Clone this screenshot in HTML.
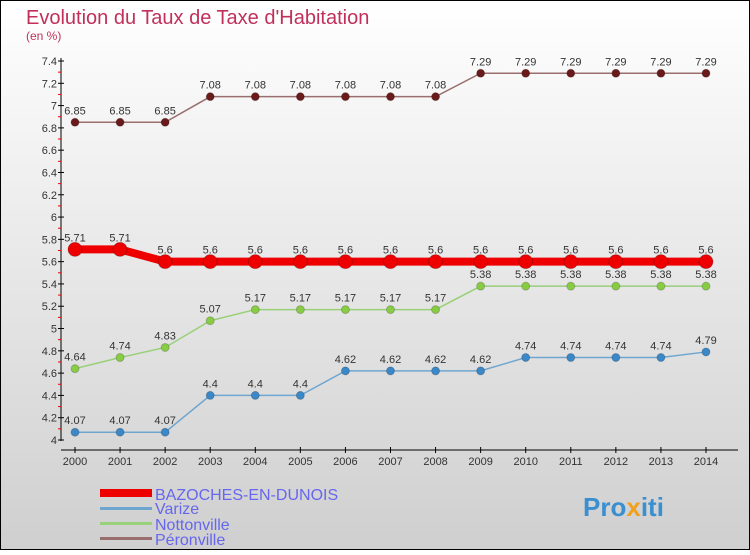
<!DOCTYPE html>
<html><head><meta charset="utf-8"><style>
body{margin:0;}
svg text{font-family:"Liberation Sans",sans-serif;}
</style></head><body>
<svg width="750" height="550" xmlns="http://www.w3.org/2000/svg">
<defs><linearGradient id="bg" x1="0" y1="0" x2="0" y2="1"><stop offset="0" stop-color="#ffffff"/><stop offset="1" stop-color="#cfcfcf"/></linearGradient></defs>
<rect x="0.5" y="0.5" width="749" height="549" fill="url(#bg)" stroke="#000"/>
<text x="26" y="24" font-size="20" fill="#c0305a">Evolution du Taux de Taxe d'Habitation</text>
<text x="26" y="40" font-size="12" fill="#c0305a">(en %)</text>
<g id="axes"></g>
<g id="series"></g>
<g>
<rect x="100" y="489" width="52" height="8" fill="#e00"/>
<text x="155" y="500" font-size="16" fill="#6666ee">BAZOCHES-EN-DUNOIS</text>
<rect x="100" y="507" width="52" height="3" fill="#6fa6d0"/>
<text x="155" y="514" font-size="16" fill="#6666ee">Varize</text>
<rect x="100" y="522" width="52" height="3" fill="#99d07a"/>
<text x="155" y="530" font-size="16" fill="#6666ee">Nottonville</text>
<rect x="100" y="537" width="52" height="3" fill="#9a6e6e"/>
<text x="155" y="545" font-size="16" fill="#6666ee">Péronville</text>
</g>
<text x="583" y="516" font-size="26" font-weight="bold" fill="#3a8fd0">Pro<tspan fill="#f0a020">x</tspan>iti</text>
</svg>
<script>
const years=[2000,2001,2002,2003,2004,2005,2006,2007,2008,2009,2010,2011,2012,2013,2014];
const bazoches=[5.71,5.71,5.6,5.6,5.6,5.6,5.6,5.6,5.6,5.6,5.6,5.6,5.6,5.6,5.6];
const varize=[4.07,4.07,4.07,4.4,4.4,4.4,4.62,4.62,4.62,4.62,4.74,4.74,4.74,4.74,4.79];
const nottonville=[4.64,4.74,4.83,5.07,5.17,5.17,5.17,5.17,5.17,5.38,5.38,5.38,5.38,5.38,5.38];
const peronville=[6.85,6.85,6.85,7.08,7.08,7.08,7.08,7.08,7.08,7.29,7.29,7.29,7.29,7.29,7.29];
const yTicks=[4,4.2,4.4,4.6,4.8,5,5.2,5.4,5.6,5.8,6,6.2,6.4,6.6,6.8,7,7.2,7.4];
const NS="http://www.w3.org/2000/svg";
const X=i=>75+i*(706-75)/(years.length-1);
const Y=v=>440-(v-4)*(379/3.4);
function mk(t,a,p){const e=document.createElementNS(NS,t);for(const k in a)e.setAttribute(k,a[k]);p.appendChild(e);return e;}
const ax=document.getElementById('axes');
let e=mk('line',{x1:61,y1:58,x2:61,y2:441,stroke:'#000'},ax);


e=mk('line',{x1:61,y1:450,x2:738,y2:450,stroke:'#000'},ax);


yTicks.forEach((v,i)=>{
 const y=Y(v);
 mk('line',{x1:58,y1:y,x2:64,y2:y,stroke:'#000'},ax);
 if(i<yTicks.length-1)mk('line',{x1:58,y1:Y(v+0.1),x2:61,y2:Y(v+0.1),stroke:'#e00'},ax);
 const t=mk('text',{x:57,y:y+4,'font-size':11,'text-anchor':'end',fill:'#333'},ax);
 t.textContent=String(v);
 
 
});
years.forEach((yr,i)=>{
 mk('line',{x1:X(i),y1:447,x2:X(i),y2:453,stroke:'#000'},ax);
 const t=mk('text',{x:X(i),y:465,'font-size':11,'text-anchor':'middle',fill:'#333'},ax);
 t.textContent=yr;
 
 
});
const sg=document.getElementById('series');
function series(vals,name,color,dot,w,r){
 const g=mk('g',{},sg);
 
 
 const pl=mk('polyline',{points:vals.map((v,i)=>X(i)+','+Y(v)).join(' '),fill:'none',stroke:color,'stroke-width':w},g);
 
 
 vals.forEach((v,i)=>{
  const c=mk('circle',{cx:X(i),cy:Y(v),r:r,fill:dot,stroke:'#0003'},g);
  
  
  const t=mk('text',{x:X(i),y:Y(v)-8,'font-size':11,'text-anchor':'middle',fill:'#333'},g);
  t.textContent=String(v);
  
  
 });
}
series(peronville,'peronville','#9a6e6e','#6a1a1a',1.5,4);
series(nottonville,'nottonville','#99d07a','#88cc44',1.5,4);
series(varize,'varize','#6fa6d0','#3a88c8',1.5,4);
series(bazoches,'bazoches','#e00','#e00',8,7);
</script>
</body></html>
